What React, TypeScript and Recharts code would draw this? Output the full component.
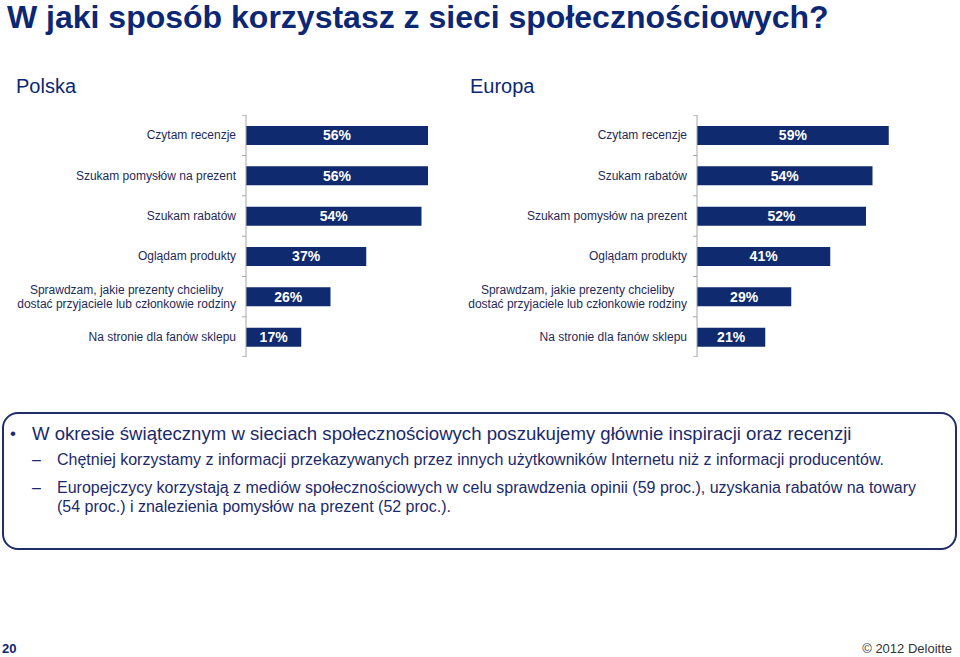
import { BarChart, Bar, XAxis, YAxis, LabelList } from "recharts";

const PL_CATEGORIES = [
  "Czytam recenzje",
  "Szukam pomysłów na prezent",
  "Szukam rabatów",
  "Oglądam produkty",
  "Sprawdzam, jakie prezenty chcieliby\ndostać przyjaciele lub członkowie rodziny",
  "Na stronie dla fanów sklepu",
];
const PL_VALUES = [56, 56, 54, 37, 26, 17];

const EU_CATEGORIES = [
  "Czytam recenzje",
  "Szukam rabatów",
  "Szukam pomysłów na prezent",
  "Oglądam produkty",
  "Sprawdzam, jakie prezenty chcieliby\ndostać przyjaciele lub członkowie rodziny",
  "Na stronie dla fanów sklepu",
];
const EU_VALUES = [59, 54, 52, 41, 29, 21];

const FONT = "'Liberation Sans', Arial, sans-serif";
const NAVY = "#0c2773";
const BAR = "#0f2a6e";
const LABEL = "#1e2a5a";

let ctx: CanvasRenderingContext2D | null = null;
function textWidth(s: string, font: string) {
  if (!ctx) ctx = document.createElement("canvas").getContext("2d");
  if (!ctx) return s.length * 6;
  ctx.font = font;
  return ctx.measureText(s).width;
}

function CategoryTick(props: any) {
  const { x, y, payload, index } = props;
  const lines = String(payload.value).split("\n");
  const axisX = x + 10;
  const half = 20;
  const maxW = Math.max(...lines.map((l) => textWidth(l, `12px ${FONT}`)));
  const cx = x - maxW / 2;
  const lh = 14;
  const y0 = y - ((lines.length - 1) * lh) / 2;
  return (
    <g>
      <line x1={axisX - 4} x2={axisX} y1={y - half} y2={y - half} stroke="#a6a6a6" />
      {index === PL_CATEGORIES.length - 1 && (
        <line x1={axisX - 4} x2={axisX} y1={y + half} y2={y + half} stroke="#a6a6a6" />
      )}
      {lines.map((l, i) => (
        <text
          key={i}
          x={lines.length > 1 ? cx : x}
          y={y0 + i * lh}
          dy="0.35em"
          textAnchor={lines.length > 1 ? "middle" : "end"}
          fontSize={12}
          fontFamily={FONT}
          fill={LABEL}
        >
          {l}
        </text>
      ))}
    </g>
  );
}

function Panel({ categories, values }: { categories: string[]; values: number[] }) {
  const data = categories.map((c, i) => ({ name: c, v: values[i] }));
  return (
    <BarChart
      width={441}
      height={242}
      data={data}
      layout="vertical"
      margin={{ top: 0, right: 0, bottom: 0, left: 0 }}
      barSize={19}
    >
      <XAxis type="number" domain={[0, 60]} hide />
      <YAxis
        type="category"
        dataKey="name"
        width={246}
        axisLine={{ stroke: "#a6a6a6" }}
        tickLine={false}
        tickSize={4}
        tickMargin={6}
        interval={0}
        tick={<CategoryTick />}
      />
      <Bar dataKey="v" fill={BAR} isAnimationActive={false}>
        <LabelList
          dataKey="v"
          position="center"
          formatter={(v: any) => `${v}%`}
          fill="#ffffff"
          fontSize={14}
          fontWeight="bold"
          fontFamily={FONT}
        />
      </Bar>
    </BarChart>
  );
}

export default function App() {
  return (
    <div
      style={{
        position: "absolute",
        left: 0,
        top: 0,
        width: 960,
        height: 657,
        background: "#ffffff",
        fontFamily: FONT,
        overflow: "hidden",
      }}
    >
      <div style={{ position: "absolute", left: 7, top: -1, fontSize: 32, fontWeight: "bold", color: NAVY, lineHeight: "36px", whiteSpace: "nowrap" }}>
        W jaki sposób korzystasz z sieci społecznościowych?
      </div>
      <div style={{ position: "absolute", left: 16, top: 74, fontSize: 20, color: NAVY, lineHeight: "24px" }}>Polska</div>
      <div style={{ position: "absolute", left: 470, top: 74, fontSize: 20, color: NAVY, lineHeight: "24px" }}>Europa</div>

      <div style={{ position: "absolute", left: 0, top: 115 }}>
        <Panel categories={PL_CATEGORIES} values={PL_VALUES} />
      </div>
      <div style={{ position: "absolute", left: 451, top: 115 }}>
        <Panel categories={EU_CATEGORIES} values={EU_VALUES} />
      </div>

      <div
        style={{
          position: "absolute",
          left: 2,
          top: 412,
          width: 951,
          height: 134,
          border: "2px solid #1f2d6b",
          borderRadius: 16,
          color: "#1b2a6b",
        }}
      >
        <div style={{ position: "absolute", left: 6, top: 9, fontSize: 17, lineHeight: "22px" }}>•</div>
        <div style={{ position: "absolute", left: 28, top: 9, fontSize: 18.6, lineHeight: "22px", whiteSpace: "nowrap" }}>
          W okresie świątecznym w sieciach społecznościowych poszukujemy głównie inspiracji oraz recenzji
        </div>
        <div style={{ position: "absolute", left: 28, top: 36, fontSize: 16, lineHeight: "19px" }}>–</div>
        <div style={{ position: "absolute", left: 53, top: 36, fontSize: 16, lineHeight: "19px", whiteSpace: "nowrap" }}>
          Chętniej korzystamy z informacji przekazywanych przez innych użytkowników Internetu niż z informacji producentów.
        </div>
        <div style={{ position: "absolute", left: 28, top: 64, fontSize: 16, lineHeight: "19px" }}>–</div>
        <div style={{ position: "absolute", left: 53, top: 64, fontSize: 16, lineHeight: "19px", whiteSpace: "nowrap" }}>
          Europejczycy korzystają z mediów społecznościowych w celu sprawdzenia opinii (59 proc.), uzyskania rabatów na towary
          <br />
          (54 proc.) i znalezienia pomysłów na prezent (52 proc.).
        </div>
      </div>

      <div style={{ position: "absolute", left: 2, top: 641, fontSize: 13, fontWeight: "bold", color: NAVY }}>20</div>
      <div style={{ position: "absolute", right: 8, top: 641, fontSize: 13, color: "#333333" }}>© 2012 Deloitte</div>
    </div>
  );
}
